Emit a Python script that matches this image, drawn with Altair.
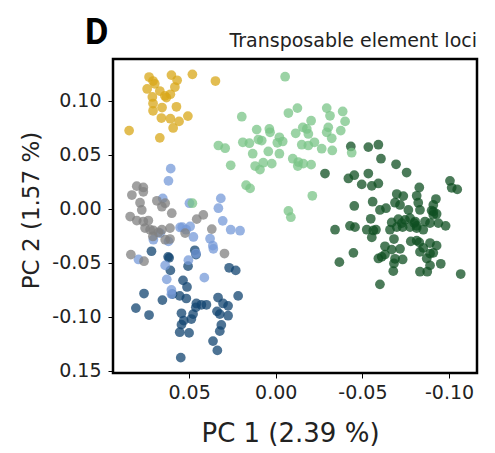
import altair as alt
import pandas as pd

# ---- data (PC1, PC2) ----
group_names = ["dark green", "navy", "light blue", "gray", "gold", "light green"]
group_colors = ["#0F4F22", "#124470", "#7599D8", "#808080", "#D8A718", "#79C487"]

dark_green = [
    (-0.0433, 0.0575), (-0.0534, 0.0569), (-0.0592, 0.0591), (-0.0607, 0.0462), (-0.0694, 0.0410),
    (-0.0755, 0.0334), (-0.0284, 0.0325), (-0.0419, 0.0279), (-0.0453, 0.0309), (-0.0534, 0.0325),
    (-0.0496, 0.0224), (-0.0554, 0.0211), (-0.0592, 0.0233), (-0.1005, 0.0257), (-0.1015, 0.0193),
    (-0.1047, 0.0178), (-0.0828, 0.0196), (-0.0813, 0.0119), (-0.0698, 0.0135), (-0.0736, 0.0116),
    (-0.0688, 0.0055), (-0.0717, 0.0034), (-0.0822, 0.0055), (-0.0924, 0.0089), (-0.0909, 0.0034),
    (-0.0453, 0.0025), (-0.0559, 0.0064), (-0.0601, -0.0012), (-0.0636, 0.0004), (-0.0765, -0.0012),
    (-0.0832, -0.0012), (-0.0909, -0.0028), (-0.0928, -0.0049), (-0.0548, -0.0094), (-0.0707, -0.0097),
    (-0.0746, -0.0104), (-0.0775, -0.0088), (-0.0799, -0.0134), (-0.0813, -0.0159), (-0.0861, -0.0119),
    (-0.0890, -0.0134), (-0.0938, -0.0134), (-0.0980, -0.0159), (-0.0669, -0.0128), (-0.0698, -0.0171),
    (-0.0732, -0.0171), (-0.0775, -0.0171), (-0.0813, -0.0180), (-0.0851, -0.0195), (-0.0342, -0.0195),
    (-0.0428, -0.0159), (-0.0457, -0.0171), (-0.0525, -0.0195), (-0.0563, -0.0202), (-0.0578, -0.0195),
    (-0.0554, -0.0266), (-0.0659, -0.0195), (-0.0682, -0.0281), (-0.0779, -0.0303), (-0.0828, -0.0312),
    (-0.0890, -0.0318), (-0.0928, -0.0342), (-0.0630, -0.0348), (-0.0717, -0.0372), (-0.0832, -0.0400),
    (-0.0909, -0.0409), (-0.0630, -0.0425), (-0.0611, -0.0446), (-0.0592, -0.0461), (-0.0688, -0.0464),
    (-0.0732, -0.0470), (-0.0871, -0.0461), (-0.0448, -0.0409), (-0.0367, -0.0495), (-0.0952, -0.0510),
    (-0.0890, -0.0525), (-0.0682, -0.0507), (-0.0678, -0.0578), (-0.0832, -0.0583), (-0.0874, -0.0583),
    (-0.1067, -0.0605), (-0.0601, -0.0700), (-0.0890, -0.0415), (-0.0813, -0.0296), (-0.0669, -0.0379),
    (-0.0899, -0.0018), (-0.0804, -0.0119), (-0.0727, -0.0134), (-0.0851, -0.0363), (-0.0909, -0.0058),
]

navy = [
    (0.0615, -0.0455), (0.0608, -0.0571), (0.0506, -0.0532), (0.0269, -0.0547), (0.0231, -0.0571),
    (0.0535, -0.0663), (0.0512, -0.0724), (0.0760, -0.0785), (0.0654, -0.0846), (0.0596, -0.0791),
    (0.0554, -0.0807), (0.0516, -0.0831), (0.0807, -0.0920), (0.0731, -0.0984), (0.0544, -0.0968),
    (0.0461, -0.0913), (0.0429, -0.0889), (0.0400, -0.0889), (0.0333, -0.0822), (0.0304, -0.0877),
    (0.0275, -0.0899), (0.0217, -0.0807), (0.0339, -0.0950), (0.0323, -0.0975), (0.0275, -0.0990),
    (0.0477, -0.0975), (0.0487, -0.1021), (0.0531, -0.1036), (0.0544, -0.1073), (0.0554, -0.1143),
    (0.0500, -0.1149), (0.0314, -0.1076), (0.0323, -0.1133), (0.0362, -0.1225), (0.0337, -0.1311),
    (0.0548, -0.1378), (0.0458, -0.0877), (0.0717, -0.0394), (0.0621, -0.0446), (0.0467, -0.0385),
    (0.0460, -0.0425),
]

light_blue = [
    (0.0606, 0.0370), (0.0619, 0.0257), (0.0652, 0.0095), (0.0498, 0.0050), (0.0317, 0.0095),
    (0.0331, 0.0004), (0.0306, -0.0113), (0.0260, -0.0195), (0.0206, -0.0204), (0.0552, -0.0174),
    (0.0494, -0.0165), (0.0475, -0.0262), (0.0379, -0.0278), (0.0363, -0.0342), (0.0360, -0.0372),
    (0.0460, -0.0415), (0.0504, -0.0477), (0.0706, -0.0287), (0.0619, -0.0303), (0.0792, -0.0470),
    (0.0638, -0.0525), (0.0629, -0.0654), (0.0412, -0.0638), (0.0602, -0.0752), (0.0602, -0.0791),
    (0.0667, -0.0226), (0.0517, -0.0195), (0.0539, -0.0171),
]

gray = [
    (0.0802, 0.0208), (0.0764, 0.0196), (0.0764, 0.0156), (0.0830, 0.0126), (0.0783, 0.0055),
    (0.0686, 0.0073), (0.0638, 0.0050), (0.0600, -0.0042), (0.0773, -0.0012), (0.0840, -0.0073),
    (0.0802, -0.0110), (0.0764, -0.0119), (0.0735, -0.0110), (0.0754, -0.0180), (0.0706, -0.0202),
    (0.0657, -0.0195), (0.0709, -0.0257), (0.0638, -0.0287), (0.0610, -0.0281), (0.0610, -0.0180),
    (0.0523, -0.0226), (0.0456, -0.0097), (0.0418, -0.0058), (0.0369, -0.0189), (0.0296, -0.0415),
    (0.0836, -0.0425), (0.0760, -0.0486), (0.0677, -0.0220), (0.0725, -0.0195), (0.0657, 0.0018),
]

gold = [
    (0.0731, 0.1217), (0.0708, 0.1180), (0.0698, 0.1155), (0.0602, 0.1235), (0.0569, 0.1187),
    (0.0582, 0.1125), (0.0481, 0.1242), (0.0348, 0.1180), (0.0742, 0.1107), (0.0669, 0.1088),
    (0.0712, 0.1033), (0.0640, 0.1043), (0.0608, 0.1058), (0.0631, 0.1027), (0.0708, 0.0972),
    (0.0656, 0.0935), (0.0573, 0.0942), (0.0708, 0.0905), (0.0660, 0.0838), (0.0608, 0.0832),
    (0.0558, 0.0807), (0.0507, 0.0856), (0.0592, 0.0746), (0.0846, 0.0722), (0.0669, 0.0655),
]

light_green = [
    (-0.0054, 0.1220), (0.0196, 0.0850), (-0.0073, 0.0884), (-0.0125, 0.0930), (-0.0294, 0.0930),
    (-0.0386, 0.0899), (-0.0313, 0.0859), (-0.0400, 0.0807), (-0.0204, 0.0813), (-0.0303, 0.0752),
    (0.0110, 0.0731), (0.0037, 0.0737), (0.0033, 0.0706), (-0.0156, 0.0752), (-0.0179, 0.0737),
    (-0.0188, 0.0691), (-0.0115, 0.0697), (-0.0294, 0.0706), (-0.0375, 0.0722), (-0.0323, 0.0651),
    (0.0331, 0.0584), (0.0292, 0.0559), (0.0190, 0.0614), (0.0152, 0.0605), (0.0100, 0.0639),
    (0.0081, 0.0630), (-0.0021, 0.0660), (-0.0009, 0.0609), (-0.0040, 0.0621), (-0.0150, 0.0591),
    (-0.0188, 0.0584), (-0.0223, 0.0614), (-0.0265, 0.0554), (-0.0326, 0.0538), (0.0133, 0.0508),
    (0.0043, 0.0529), (-0.0021, 0.0508), (0.0260, 0.0401), (0.0119, 0.0394), (0.0072, 0.0425),
    (0.0091, 0.0361), (0.0023, 0.0416), (-0.0098, 0.0462), (-0.0130, 0.0431), (-0.0127, 0.0394),
    (-0.0159, 0.0416), (-0.0204, 0.0407), (0.0171, 0.0217), (0.0148, 0.0187), (-0.0211, 0.0119),
    (-0.0073, -0.0021), (-0.0087, -0.0079), (-0.0438, 0.0517), (0.0481, 0.0050),
]

group_points = [dark_green, navy, light_blue, gray, gold, light_green]

x_ticks = [0.05, 0.0, -0.05, -0.10]
x_tick_labels = ["0.05", "0.00", "-0.05", "-0.10"]
y_ticks = [0.10, 0.05, 0.0, -0.05, -0.10, -0.15]
y_tick_labels = ["0.10", "0.05", "0.00", "-0.05", "-0.10", "0.15"]

x_title = "PC 1 (2.39 %)"
y_title = "PC  2 (1.57 %)"
panel_letter = "D"
panel_title = "Transposable element loci"

# ---- build table ----
rows = []
for name, pts in zip(group_names, group_points):
    for a, b in pts:
        rows.append({"group": name, "pc1": a, "pc2": b})
df = pd.DataFrame(rows)


def label_expr(vals, labs):
    e = "''"
    for v, l in reversed(list(zip(vals, labs))):
        e = f"abs(datum.value - ({v})) < 0.001 ? '{l}' : ({e})"
    return e


FONT = "DejaVu Sans"
TXT = "#222222"
W, H = 364, 314

common_axis = dict(
    domain=False, grid=False, ticks=True, tickSize=5, tickColor="black", tickWidth=1,
    labelFont=FONT, labelFontSize=19, labelColor=TXT,
    titleFont=FONT, titleFontWeight="normal", titleColor=TXT,
)

points = alt.Chart(df).mark_circle(size=95, opacity=0.75, strokeWidth=0).encode(
    x=alt.X(
        "pc1:Q",
        scale=alt.Scale(domain=[-0.1161, 0.0939], reverse=True, nice=False, zero=False),
        axis=alt.Axis(
            values=x_ticks, labelExpr=label_expr(x_ticks, x_tick_labels),
            title=x_title, titleFontSize=26, titleX=177, titleY=68, titleAlign="center",
            titleBaseline="alphabetic", labelPadding=5, **common_axis,
        ),
    ),
    y=alt.Y(
        "pc2:Q",
        scale=alt.Scale(domain=[-0.152, 0.1384], nice=False, zero=False),
        axis=alt.Axis(
            values=y_ticks, labelExpr=label_expr(y_ticks, y_tick_labels),
            title=y_title, titleFontSize=23, titleX=-75, titleY=151, titleAngle=270,
            titleAlign="center", titleBaseline="alphabetic", labelPadding=7, **common_axis,
        ),
    ),
    color=alt.Color("group:N", scale=alt.Scale(domain=group_names, range=group_colors), legend=None),
)

letter = alt.Chart(pd.DataFrame({"t": [panel_letter]})).mark_text(
    font="Roboto", fontSize=36, fontWeight="bold", align="left", baseline="alphabetic", color="black"
).encode(x=alt.value(-28), y=alt.value(-15), text="t:N")

subtitle = alt.Chart(pd.DataFrame({"t": [panel_title]})).mark_text(
    font=FONT, fontSize=19, align="right", baseline="alphabetic", color=TXT
).encode(x=alt.value(W), y=alt.value(-12), text="t:N")

chart = alt.layer(points, letter, subtitle).properties(
    width=W, height=H,
    padding={"left": 105, "top": 51, "right": 6, "bottom": 78},
    autosize=alt.AutoSizeParams(type="none"),
).configure_view(stroke="black", strokeWidth=2.5)

chart.save("out.html", embed_options={"renderer": "svg", "actions": False})
